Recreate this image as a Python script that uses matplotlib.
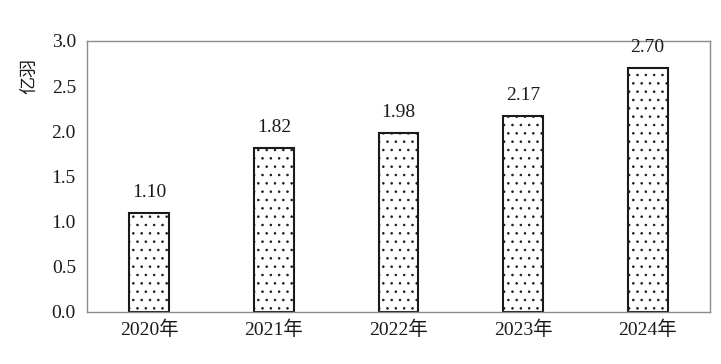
import matplotlib
matplotlib.use("Agg")
import matplotlib.pyplot as plt

plt.rcParams['font.family'] = ['Liberation Serif', 'Noto Sans CJK SC']
plt.rcParams['hatch.linewidth'] = 0.6

categories = ['2020年', '2021年', '2022年', '2023年', '2024年']
values = [1.10, 1.82, 1.98, 2.17, 2.70]
labels = ['1.10', '1.82', '1.98', '2.17', '2.70']
yticks = [0.0, 0.5, 1.0, 1.5, 2.0, 2.5, 3.0]

fig = plt.figure(figsize=(7.21, 3.64), dpi=100)
ax = fig.add_axes([0.1207, 0.1429, 0.8640, 0.7445])

x = range(len(categories))
ax.bar(x, values, width=0.32, facecolor='white', edgecolor='#1a1a1a',
       linewidth=1.5, hatch='..', zorder=2)
for xi, v, lab in zip(x, values, labels):
    ax.text(xi, v + 0.13, lab, ha='center', va='bottom', fontsize=14, color='#1a1a1a')

ax.set_xlim(-0.5, len(categories) - 0.5)
ax.set_ylim(0, 3.0)
ax.set_yticks(yticks)
ax.set_yticklabels([f'{t:.1f}' for t in yticks])
ax.set_xticks(list(x))
ax.set_xticklabels(categories)
ax.tick_params(axis='both', length=0, labelsize=14, colors='#1a1a1a')
ax.tick_params(axis='x', pad=6)
ax.tick_params(axis='y', pad=8)
for s in ax.spines.values():
    s.set_color('#8c8c8c')
    s.set_linewidth(1.0)
ax.set_ylabel('亿羽', fontsize=13, color='#1a1a1a')
ax.yaxis.set_label_coords(-0.078, 0.87)

fig.savefig('out.png', dpi=100)
